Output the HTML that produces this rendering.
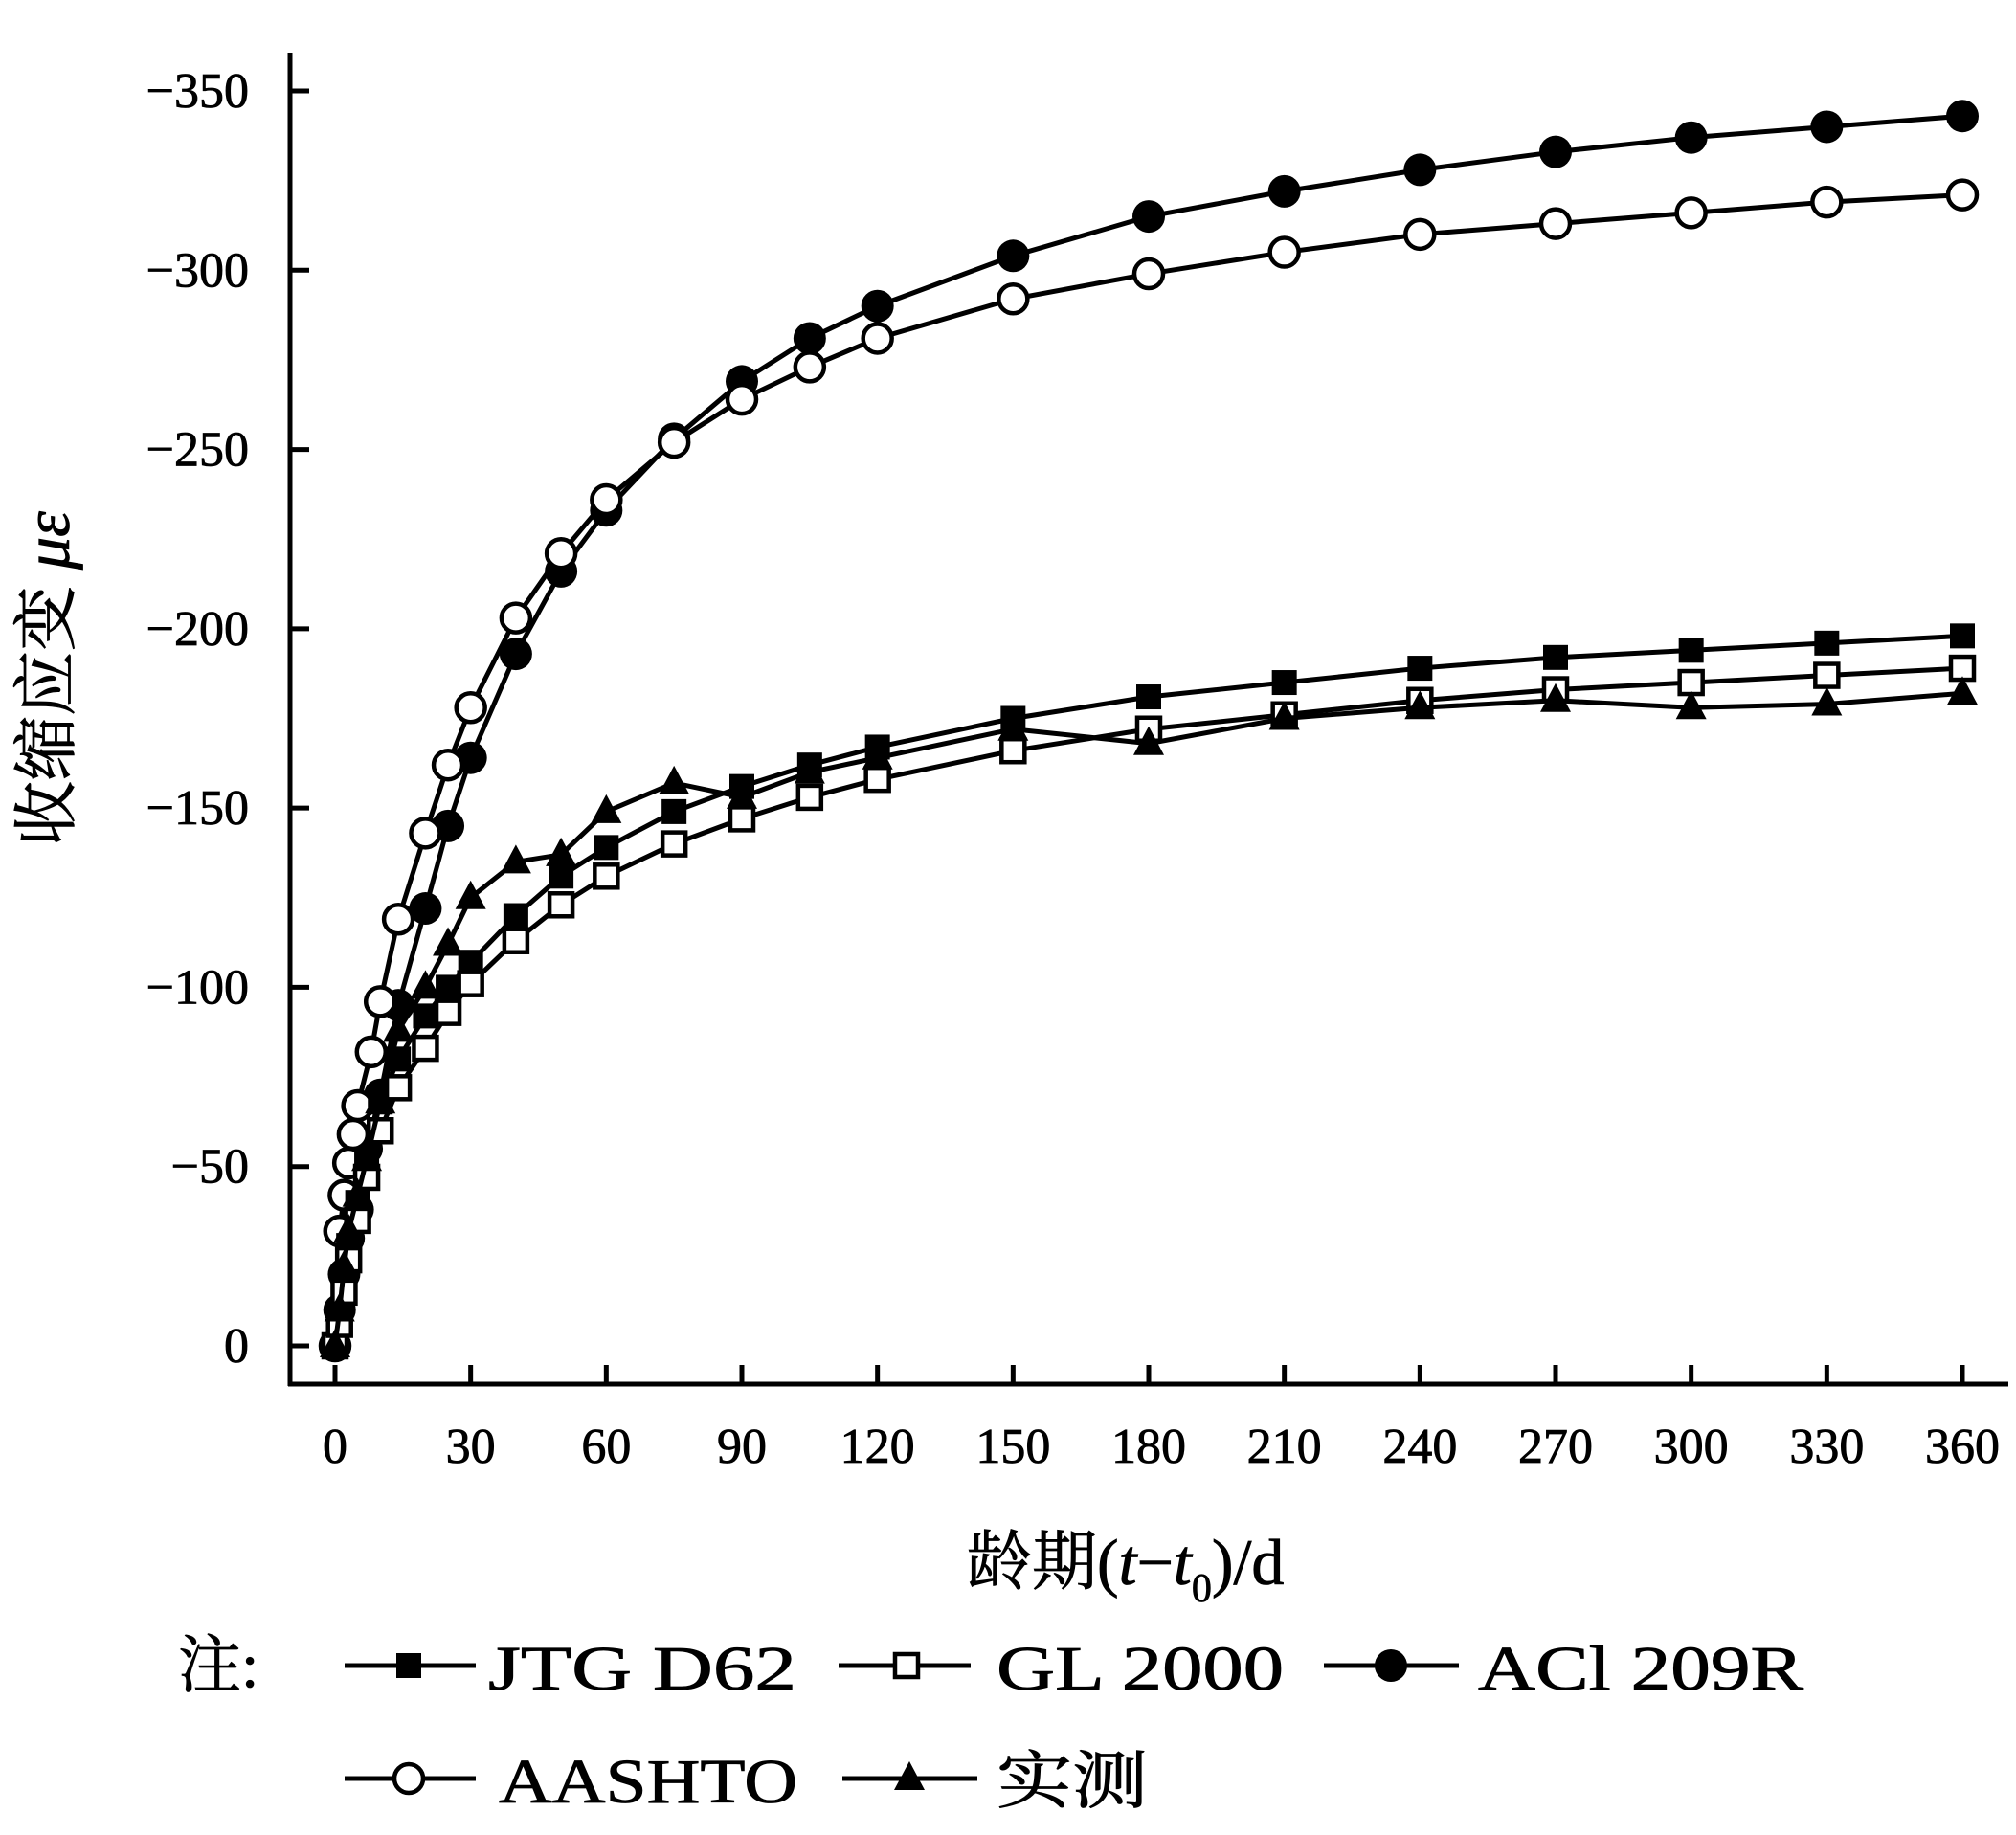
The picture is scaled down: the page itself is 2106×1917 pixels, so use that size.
<!DOCTYPE html>
<html><head><meta charset="utf-8"><style>
html,body{margin:0;padding:0;background:#fff}
svg{display:block}
text{font-family:"Liberation Serif","Noto Serif CJK SC","Noto Sans CJK SC",serif;fill:#000}
</style></head><body>
<svg id="chart" width="2106" height="1917" viewBox="0 0 2106 1917" xmlns="http://www.w3.org/2000/svg">
<g id="axes"></g>
<g id="series"></g>
<g id="legend"></g>
</svg>
<script>
const xTicks=[0,30,60,90,120,150,180,210,240,270,300,330,360];
const yTicks=[0,-50,-100,-150,-200,-250,-300,-350];
const daysEarly=[0,1,2,3,5,7,10,14,20,25,30,40,50,60,75,90,105,120,150,180,210,240,270,300,330,360];
const aashtoD=[0,1,2,3,4,5,8,10,14,20,25,30,40,50,60,75,90,105,120,150,180,210,240,270,300,330,360];
const aashtoVals=[0,-32,-42,-51,-59,-67,-82,-96,-119,-143,-162,-178,-203,-221,-236,-252,-264,-273,-281,-292,-299,-305,-310,-313,-316,-319,-321];
const aciVals=[0,-10,-20,-30,-38,-55,-70,-95,-122,-145,-164,-193,-216,-233,-253,-269,-281,-290,-304,-315,-322,-328,-333,-337,-340,-343];
const jtgVals=[0,-8,-18,-28,-40,-52,-68,-80,-92,-100,-107,-120,-131,-139,-149,-156,-162,-167,-175,-181,-185,-189,-192,-194,-196,-198];
const glVals=[0,-6,-15,-24,-35,-47,-60,-72,-83,-93,-101,-113,-123,-131,-140,-147,-153,-158,-166,-172,-176,-180,-183,-185,-187,-189];
const measVals=[0,-10,-22,-32,-42,-52,-68,-88,-100,-112,-125,-135,-137,-149,-157,-153,-160,-164,-172,-168,-175,-178,-180,-178,-179,-182];

const NS="http://www.w3.org/2000/svg";
const X0=350,X1=2050,Y0=1406,Y350=95;
function sx(d){return X0+(X1-X0)*d/360;}
function sy(v){return Y0+(Y350-Y0)*(v/-350);}
function mk(tag,attrs,parent){const e=document.createElementNS(NS,tag);for(const k in attrs)e.setAttribute(k,attrs[k]);parent.appendChild(e);return e;}
const axes=document.getElementById('axes');
let yl=mk('line',{x1:303,y1:55,x2:303,y2:1448,stroke:'#000','stroke-width':5},axes);


let xl=mk('line',{x1:301,y1:1446,x2:2098,y2:1446,stroke:'#000','stroke-width':5},axes);


yTicks.forEach(v=>{
 let t=mk('line',{x1:303,y1:sy(v),x2:323,y2:sy(v),stroke:'#000','stroke-width':5},axes);
 
 
 let l=mk('text',{x:260,y:sy(v)+17,'text-anchor':'end','font-size':52,stroke:'#000','stroke-width':0.8},axes);
 l.textContent=v===0?'0':'−'+Math.abs(v);
 
 
});
xTicks.forEach(d=>{
 let t=mk('line',{x1:sx(d),y1:1446,x2:sx(d),y2:1426,stroke:'#000','stroke-width':5},axes);
 
 
 let l=mk('text',{x:sx(d),y:1528,'text-anchor':'middle','font-size':52,stroke:'#000','stroke-width':0.8},axes);
 l.textContent=String(d);
 
 
});
let xt=mk('text',{x:1010,y:1655,'font-size':68,stroke:'#000','stroke-width':0.8},axes);
xt.innerHTML='龄期(<tspan font-style="italic">t</tspan>−<tspan font-style="italic">t</tspan><tspan font-size="42" dy="18">0</tspan><tspan dy="-18">)/d</tspan>';


let ytt=mk('text',{x:0,y:0,'font-size':68,'text-anchor':'middle',stroke:'#000','stroke-width':0.8,transform:'translate(72,709) rotate(-90)'},axes);
ytt.innerHTML='收缩应变 <tspan font-style="italic">με</tspan>';



function marker(type,x,y,parent){
 let e;
 if(type==='fsq')e=mk('rect',{x:x-13,y:y-13,width:26,height:26,fill:'#000'},parent);
 else if(type==='osq')e=mk('rect',{x:x-12,y:y-12,width:24,height:24,fill:'#fff',stroke:'#000','stroke-width':4.5},parent);
 else if(type==='fci')e=mk('circle',{cx:x,cy:y,r:17,fill:'#000'},parent);
 else if(type==='oci')e=mk('circle',{cx:x,cy:y,r:15,fill:'#fff',stroke:'#000','stroke-width':4.5},parent);
 else e=mk('polygon',{points:`${x},${y-18} ${x+16},${y+12} ${x-16},${y+12}`,fill:'#000'},parent);
 return e;
}
const sg=document.getElementById('series');
function series(name,days,vals,type){
 const g=mk('g',{},sg);
 
 
 const pts=days.map((d,i)=>sx(d)+','+sy(vals[i])).join(' ');
 let pl=mk('polyline',{points:pts,fill:'none',stroke:'#000','stroke-width':5},g);
 
 
 days.forEach((d,i)=>{let m=marker(type,sx(d),sy(vals[i]),g);
  
  });
}
series('series-aci-209r',daysEarly,aciVals,'fci');
series('series-aashto',aashtoD,aashtoVals,'oci');
series('series-jtg-d62',daysEarly,jtgVals,'fsq');
series('series-gl-2000',daysEarly,glVals,'osq');
series('series-measured',daysEarly,measVals,'tri');

const lg=document.getElementById('legend');
let note=mk('text',{x:186,y:1762,'font-size':66,stroke:'#000','stroke-width':0.8},lg);
note.textContent='注:';


const leg=[
 {n:'legend-jtg-d62',t:'JTG D62',type:'fsq',lx:360,rx:497,mx:427,tx:510,tw:322,y:1740},
 {n:'legend-gl-2000',t:'GL 2000',type:'osq',lx:876,rx:1014,mx:947,tx:1041,tw:300,y:1740},
 {n:'legend-aci-209r',t:'ACl 209R',type:'fci',lx:1383,rx:1524,mx:1453,tx:1544,tw:340,y:1740},
 {n:'legend-aashto',t:'AASHTO',type:'oci',lx:360,rx:497,mx:427,tx:521,tw:312,y:1858},
 {n:'legend-measured',t:'实测',type:'tri',lx:880,rx:1021,mx:950,tx:1041,tw:158,y:1858}
];
leg.forEach(o=>{
 const g=mk('g',{},lg);
 
 
 mk('line',{x1:o.lx,y1:o.y,x2:o.rx,y2:o.y,stroke:'#000','stroke-width':5},g);
 marker(o.type,o.mx,o.y,g);
 const t=mk('text',{x:o.tx,y:o.y+25,'font-size':66,stroke:'#000','stroke-width':0.8,textLength:o.tw,lengthAdjust:'spacingAndGlyphs'},g);
 t.textContent=o.t;
});
</script>
</body></html>
